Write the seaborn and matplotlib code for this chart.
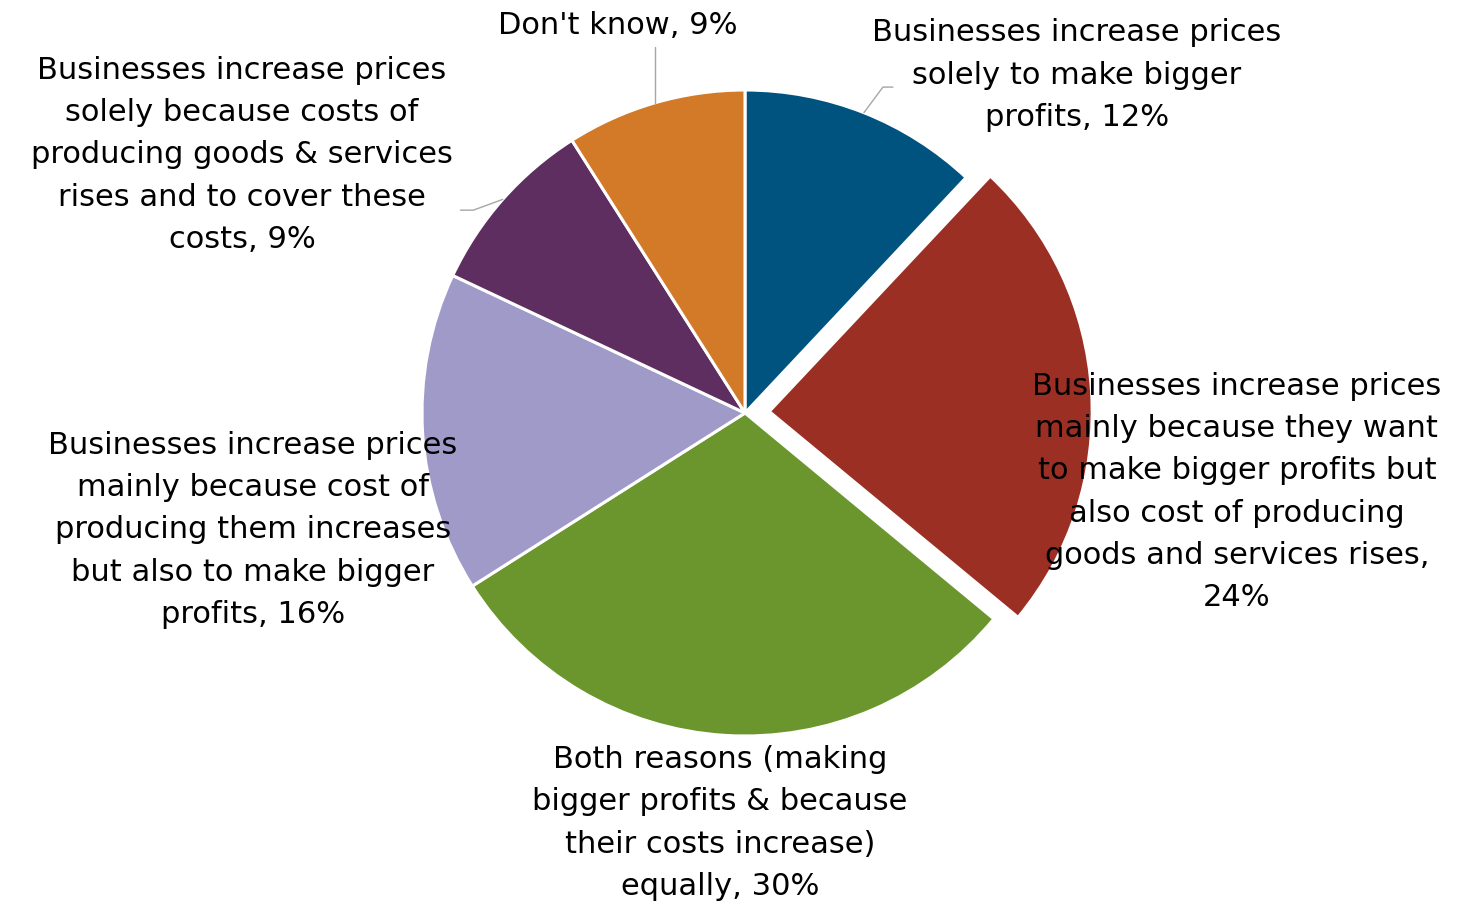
import numpy as np
import matplotlib
matplotlib.use("Agg")
import matplotlib.pyplot as plt
import seaborn as sns

# Survey answers, clockwise from 12 o'clock
categories = [
    "Businesses increase prices\nsolely to make bigger\nprofits",
    "Businesses increase prices\nmainly because they want\nto make bigger profits but\nalso cost of producing\ngoods and services rises,\n",
    "Both reasons (making\nbigger profits & because\ntheir costs increase)\nequally",
    "Businesses increase prices\nmainly because cost of\nproducing them increases\nbut also to make bigger\nprofits",
    "Businesses increase prices\nsolely because costs of\nproducing goods & services\nrises and to cover these\ncosts",
    "Don't know",
]
shares = [12, 24, 30, 16, 9, 9]
colors = ["#00527F", "#9B2F24", "#6A962D", "#A09AC9", "#5D2E5F", "#D27A27"]

sns.set_theme(style="white")
plt.rcParams["font.family"] = ["DejaVu Sans"]

W, H, R = 1476, 908, 323.0
cx, cy = 745.0, 413.0
fig = plt.figure(figsize=(W / 100, H / 100), dpi=100)
ax = fig.add_axes([0, 0, 1, 1])

explode = [0, 0.075, 0, 0, 0, 0]
wedges, _ = ax.pie(
    shares, colors=colors, startangle=90, counterclock=False,
    explode=explode, radius=1.0, center=(0, 0),
    wedgeprops=dict(edgecolor="white", linewidth=2.2),
)
ax.set_xlim(-cx / R, (W - cx) / R)
ax.set_ylim(-(H - cy) / R, cy / R)
ax.set_aspect("equal")
ax.axis("off")

# label anchor points (centre of each text block) and leader elbows
label_xy = [(1.028, 1.046), (1.523, -0.245), (-0.077, -1.269),
            (-1.523, -0.362), (-1.557, 0.799), (-0.393, 1.201)]
leaders = {
    0: [(0.427, 1.009), (0.458, 1.009)],
    4: [(-0.841, 0.628), (-0.881, 0.628)],
    5: [(-0.282, 1.133)],
}

for i, (w, lab, v) in enumerate(zip(wedges, categories, shares)):
    sep = "" if lab.endswith("\n") else ", "
    text = f"{lab}{sep}{v}%"
    x, y = label_xy[i]
    ax.text(x, y, text, ha="center", va="center", multialignment="center",
            fontsize=22, color="black", linespacing=1.58, zorder=5)
    if i in leaders:
        ang = np.deg2rad((w.theta1 + w.theta2) / 2)
        px, py = np.cos(ang) * w.r, np.sin(ang) * w.r
        pts = [(px, py)] + leaders[i]
        if i == 5:
            pts = [(px, py), (px, leaders[i][0][1])]
        xs, ys = zip(*pts)
        ax.plot(xs, ys, color="#A6A6A6", lw=1.0, zorder=1)

fig.savefig("out.png", dpi=100, facecolor="white")
